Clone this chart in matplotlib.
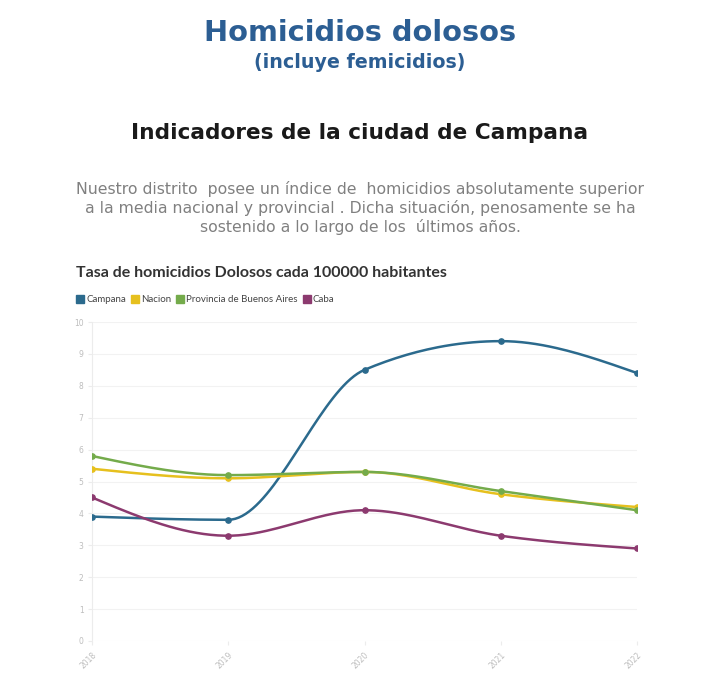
import numpy as np
import matplotlib
matplotlib.use("Agg")
from matplotlib import pyplot as plt
from matplotlib.lines import Line2D

YEARS = [2018, 2019, 2020, 2021, 2022]
CAMPANA = [3.9, 3.8, 8.5, 9.4, 8.4]
NACION = [5.4, 5.1, 5.3, 4.6, 4.2]
PBA = [5.8, 5.2, 5.3, 4.7, 4.1]
CABA = [4.5, 3.3, 4.1, 3.3, 2.9]

SERIES = [
    ("Campana", CAMPANA, "#2b6a8d"),
    ("Nacion", NACION, "#e6c01e"),
    ("Provincia de Buenos Aires", PBA, "#74ab4b"),
    ("Caba", CABA, "#8c3a6f"),
]

W, H = 720, 690


def monotone_curve(x, y, steps=40):
    """Monotone cubic (same idea as d3 curveMonotoneX) between the points."""
    x = np.asarray(x, float)
    y = np.asarray(y, float)
    n = len(x)
    h = np.diff(x)
    s = np.diff(y) / h
    m = np.zeros(n)
    for i in range(1, n - 1):
        p = (s[i - 1] * h[i] + s[i] * h[i - 1]) / (h[i - 1] + h[i])
        m[i] = (np.sign(s[i - 1]) + np.sign(s[i])) * min(abs(s[i - 1]), abs(s[i]), 0.5 * abs(p))
    m[0] = (3 * s[0] - m[1]) / 2
    m[-1] = (3 * s[-1] - m[-2]) / 2
    xs, ys = [], []
    for i in range(n - 1):
        t = np.linspace(0, 1, steps)
        h00 = 2 * t**3 - 3 * t**2 + 1
        h10 = t**3 - 2 * t**2 + t
        h01 = -2 * t**3 + 3 * t**2
        h11 = t**3 - t**2
        xs.append(x[i] + t * h[i])
        ys.append(h00 * y[i] + h10 * h[i] * m[i] + h01 * y[i + 1] + h11 * h[i] * m[i + 1])
    return np.concatenate(xs), np.concatenate(ys)


fig = plt.figure(figsize=(W / 100, H / 100), dpi=100)

# header texts
fig.text(0.5, 1 - 33 / H, "Homicidios dolosos", ha="center", va="center",
         fontsize=20.8, fontweight="bold", color="#2c5e93", family="DejaVu Sans")
fig.text(0.5, 1 - 62 / H, "(incluye femicidios)", ha="center", va="center",
         fontsize=13.7, fontweight="bold", color="#2c5e93", family="DejaVu Sans")
fig.text(0.5, 1 - 133 / H, "Indicadores de la ciudad de Campana", ha="center", va="center",
         fontsize=15.6, fontweight="bold", color="#1a1a1a", family="DejaVu Sans")
fig.text(0.5, 1 - 208 / H,
         "Nuestro distrito  posee un índice de  homicidios absolutamente superior\n"
         "a la media nacional y provincial . Dicha situación, penosamente se ha\n"
         "sostenido a lo largo de los  últimos años.",
         ha="center", va="center", fontsize=11.3, color="#808080",
         family="DejaVu Sans", linespacing=1.2)

fig.text(76 / W, 1 - 273 / H, "Tasa de homicidios Dolosos cada 100000 habitantes",
         ha="left", va="center", fontsize=11.5, fontweight="bold", color="#333333",
         family="Lato")

ax = fig.add_axes([92 / W, 1 - 641 / H, (637 - 92) / W, (641 - 322) / H])

for name, vals, col in SERIES:
    cx, cy = monotone_curve(YEARS, vals)
    ax.plot(cx, cy, color=col, lw=1.8, solid_capstyle="round", zorder=3)
    ax.plot(YEARS, vals, "o", color=col, ms=3.8, zorder=4)

ax.set_xlim(2018, 2022)
ax.set_ylim(0, 10)
ax.set_yticks(range(0, 11))
ax.set_xticks(YEARS)
ax.set_xticklabels([str(y) for y in YEARS], rotation=45, ha="right", va="top",
                   rotation_mode="anchor")
ax.tick_params(axis="both", labelsize=5.5, labelcolor="#bdbdbd", length=3,
               color="#ececec")
ax.tick_params(axis="y", pad=3)
ax.grid(axis="y", color="#f2f2f2", lw=0.8)
for side in ["top", "right", "bottom"]:
    ax.spines[side].set_visible(False)
ax.spines["left"].set_color("#ececec")
ax.set_axisbelow(True)

handles = [Line2D([], [], marker="s", ls="none", color=col, ms=6, label=name)
           for name, _, col in SERIES]
leg = fig.legend(handles=handles, loc="center left", bbox_to_anchor=(73 / W, 1 - 300 / H),
                 ncol=4, frameon=False, fontsize=7, handlelength=0.7, handletextpad=0.25,
                 columnspacing=0.6, borderaxespad=0)
for t in leg.get_texts():
    t.set_color("#444444")
    t.set_family("Lato")

fig.savefig("out.png", dpi=100, facecolor="white")
